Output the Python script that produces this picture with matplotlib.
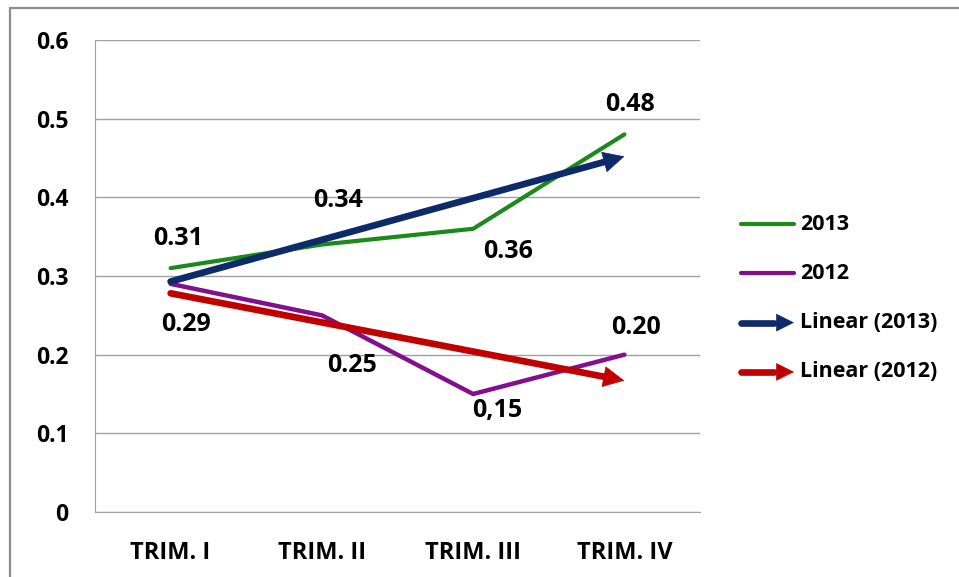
import numpy as np
import matplotlib
matplotlib.use('Agg')
import matplotlib.pyplot as plt
from matplotlib.patches import Rectangle

# date
trimestre = ['TRIM. I', 'TRIM. II', 'TRIM. III', 'TRIM. IV']
val_2013 = [0.31, 0.34, 0.36, 0.48]
val_2012 = [0.29, 0.25, 0.15, 0.20]
et_2013 = ['0.31', '0.34', '0.36', '0.48']
et_2012 = ['0.29', '0.25', '0,15', '0.20']

plt.rcParams['font.family'] = ['Open Sans', 'DejaVu Sans']
plt.rcParams['font.weight'] = 'bold'
GR = 'bold'

W, H = 959, 577
fig = plt.figure(figsize=(W / 100, H / 100), dpi=100)
ax = fig.add_axes([95 / W, 1 - 512 / H, (700 - 95) / W, (512 - 40) / H])

x = np.arange(len(trimestre))
c_verde = '#1a8a1a'
c_mov = '#820f8c'
c_albastru = '#0d2a6b'
c_rosu = '#c00000'

ax.plot(x, val_2013, color=c_verde, lw=3.0, solid_capstyle='round', zorder=3)
ax.plot(x, val_2012, color=c_mov, lw=3.2, solid_capstyle='round', zorder=3)

# linii de tendinta (liniare) ca in Excel
for vals, col in [(val_2013, c_albastru), (val_2012, c_rosu)]:
    p = np.polyfit(x + 1, vals, 1)
    y0 = np.polyval(p, 1)
    y1 = np.polyval(p, len(x))
    ax.plot([x[0], x[-1] - 0.1], [y0, y1 - p[0] * 0.1], color=col, lw=4.8,
            solid_capstyle='round', zorder=4)
    ax.annotate('', xy=(x[-1], y1), xytext=(x[-1] - 0.2, y1 - p[0] * 0.2),
                arrowprops=dict(arrowstyle='-|>', color=col, lw=0.5,
                                mutation_scale=36, shrinkA=0, shrinkB=0),
                zorder=4)

# etichete
off_2013 = [(8, 30), (16, 44), (35, -23), (6, 30)]
off_2012 = [(15, -41), (30, -50), (24, -17), (12, 27)]
for xi, v, t, o in zip(x, val_2013, et_2013, off_2013):
    ax.annotate(t, (xi, v), xytext=o, textcoords='offset pixels',
                ha='center', va='center', fontsize=18, fontweight=GR)
for xi, v, t, o in zip(x, val_2012, et_2012, off_2012):
    ax.annotate(t, (xi, v), xytext=o, textcoords='offset pixels',
                ha='center', va='center', fontsize=18, fontweight=GR)

ax.set_ylim(0, 0.6)
ax.set_xlim(-0.5, 3.5)
ax.set_yticks([0, 0.1, 0.2, 0.3, 0.4, 0.5, 0.6])
ax.set_yticklabels(['0', '0.1', '0.2', '0.3', '0.4', '0.5', '0.6'])
ax.set_xticks(x)
ax.set_xticklabels(trimestre)
ax.tick_params(axis='y', length=0, pad=19, labelsize=16.5)
ax.tick_params(axis='x', length=0, pad=21, labelsize=17)
ax.grid(axis='y', color='#a0a0a0', lw=1)
ax.set_axisbelow(True)
for s in ['top', 'right']:
    ax.spines[s].set_visible(False)
ax.spines['left'].set_color('#a0a0a0')
ax.spines['bottom'].set_color('#a0a0a0')

# legenda desenata manual
lg = fig.add_axes([0, 0, 1, 1])
lg.set_xlim(0, W)
lg.set_ylim(H, 0)
lg.axis('off')
lg.patch.set_alpha(0)
intrari = [('2013', c_verde, False), ('2012', c_mov, False),
           ('Linear (2013)', c_albastru, True), ('Linear (2012)', c_rosu, True)]
for i, (nume, col, sageata) in enumerate(intrari):
    yy = 224 + i * 49.3
    if sageata:
        lg.plot([741, 774], [yy, yy], color=col, lw=4.8, solid_capstyle='round')
        lg.annotate('', xy=(794, yy), xytext=(768, yy),
                    arrowprops=dict(arrowstyle='-|>', color=col, lw=0.5,
                                    mutation_scale=30, shrinkA=0, shrinkB=0))
    else:
        lg.plot([741, 794], [yy, yy], color=col, lw=3.0, solid_capstyle='round')
    lg.text(800, yy, nume, ha='left', va='center', fontsize=15.5, fontweight=GR)

# chenar exterior
fig.patches.append(Rectangle((10 / W, -0.1), 1.2, 1.1 - 8 / H, transform=fig.transFigure,
                             fill=False, edgecolor='#8c8c8c', lw=1.6))

fig.savefig('out.png', dpi=100)
